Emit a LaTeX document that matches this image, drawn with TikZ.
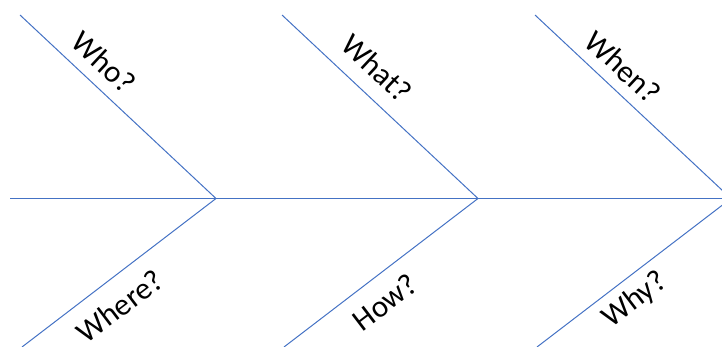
\documentclass[tikz,border=0pt]{standalone}
\usepackage{fontspec}
\setmainfont{Carlito}
\usepackage{tikz}
\usetikzlibrary{positioning}
\usepackage{xcolor}
\definecolor{bone}{HTML}{4472C4}

\begin{document}
\begin{tikzpicture}[x=1pt, y=-1pt,
      ln/.style={draw=bone, line width=1pt},
      q/.style={font=\fontsize{31}{36}\selectfont, inner sep=0pt}]
      \useasboundingbox (0,0) rectangle (722,347);
      \clip (0,0) rectangle (722,347);
      % spine
      \coordinate (tail) at (10,198.5);
      \foreach \i/\x in {1/216,2/478,3/731} \coordinate (j\i) at (\x,198.5);
      \draw[ln] (tail) -- (j3);
      % bones
      \foreach \i/\x in {1/20,2/282,3/535} {
        \coordinate (u\i) at (\x,15);
        \coordinate (d\i) at (\x+2,347);
        \draw[ln] (u\i) -- (j\i);
        \draw[ln] (d\i) -- (j\i);
      }
      % questions
      \node[q, rotate=-43] (who) at (104,62) {Who?};
      \node[q, rotate=-43] (what) at (377,68) {What?};
      \node[q, rotate=-43] (when) at (623,67) {When?};
      \node[q, rotate=37.3] (where) at (120,306) {Where?};
      \node[q, rotate=37.3] (how) at (385,302) {How?};
      \node[q, rotate=37.3] (why) at (635,300) {Why?};
    \end{tikzpicture}
\end{document}
